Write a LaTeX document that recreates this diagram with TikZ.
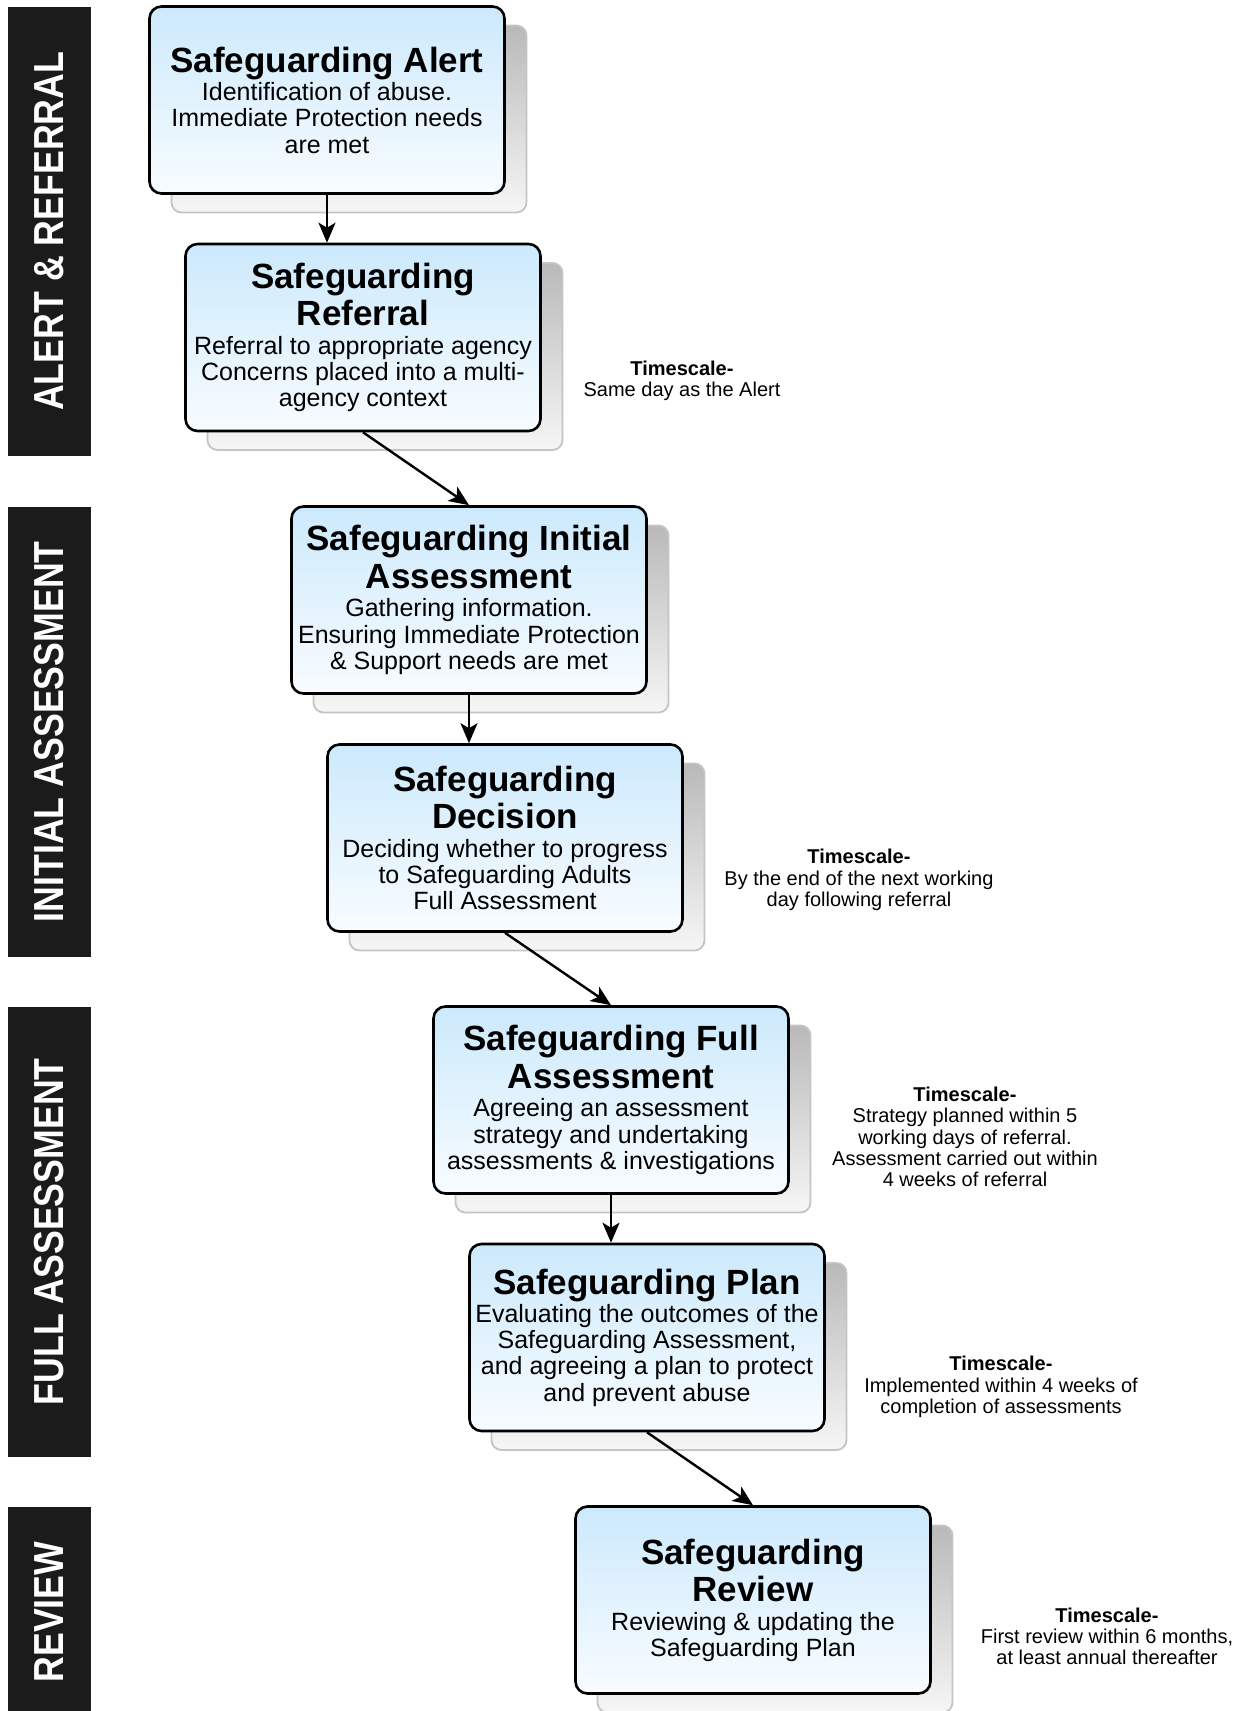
\documentclass[tikz,border=0pt]{standalone}
\usepackage{fontspec}
\setmainfont{Liberation Sans}
\newfontfamily\barfont{Liberation Sans}[FakeStretch=0.85]
\usetikzlibrary{arrows.meta,shadings}
\setlength\parindent{0pt}
\setlength\parskip{0pt}

\definecolor{boxtop}{RGB}{204,233,252}
\definecolor{boxbot}{RGB}{248,252,255}
\definecolor{shadowtop}{RGB}{185,185,185}
\definecolor{shadowbot}{RGB}{246,246,246}
\definecolor{shadowline}{RGB}{196,196,196}
\definecolor{barfill}{RGB}{27,27,27}

\newcommand\titlefont{\fontsize{35}{37.5}\selectfont\bfseries\spaceskip=0pt\xspaceskip=0pt}
\newcommand\bodyfont{\fontsize{25}{26.2}\selectfont\spaceskip=0pt\xspaceskip=0pt}
% title block, then the description under it
\newcommand\steptext[2]{{\centering\titlefont #1\par}\vspace{2.3pt}{\centering\bodyfont #2\par}}
% a process step: grey backing card, then the blue card on top
\newcommand\flowstep[5]{%
  \node[shadowbox] (#1-card) at (#2+22,#3+19) {};
  \node[stepbox] (#1) at (#2,#3) {\steptext{#4}{#5}};
}

\tikzset{
  stepbox/.style={rectangle, rounded corners=12pt, draw=black, line width=2.6pt,
    top color=boxtop, bottom color=boxbot, minimum width=355pt, minimum height=187pt,
    text width=355pt, inner sep=0pt, align=center},
  shadowbox/.style={rectangle, rounded corners=10pt, draw=shadowline, line width=1.8pt,
    top color=shadowtop, bottom color=shadowbot, minimum width=355pt,
    minimum height=187pt, inner sep=0pt},
  flow/.style={line width=2.4pt, -{Stealth[length=20pt,width=17pt,inset=5pt]}},
  sidebar/.style={fill=barfill, text=white, rotate=90, minimum height=83pt,
    inner sep=0pt, font=\barfont\bfseries\fontsize{42}{42}\selectfont},
  timescale/.style={align=center, inner sep=0pt, font=\fontsize{20}{21.3}\selectfont},
}

\begin{document}
\begin{tikzpicture}[x=1pt,y=-1pt]
\useasboundingbox[fill=white] (0,0) rectangle (1242,1711);

% stage bars on the left
\node[sidebar, minimum width=449.5pt] (bar1) at (49,231.3) {ALERT \& REFERRAL};
\node[sidebar, minimum width=450.5pt] (bar2) at (49,731.8) {INITIAL ASSESSMENT};
\node[sidebar, minimum width=450.5pt] (bar3) at (49,1231.8) {FULL ASSESSMENT};
\node[sidebar, minimum width=210pt] (bar4) at (49,1612) {REVIEW};

% process steps
\flowstep{alert}{327}{100}{Safeguarding Alert}
  {Identification of abuse.\\Immediate Protection needs\\are met}
\flowstep{referral}{363}{337.5}{Safeguarding\\Referral}
  {Referral to appropriate agency\\Concerns placed into a multi-\\agency context}
\flowstep{initial}{469}{600}{Safeguarding Initial\\Assessment}
  {Gathering information.\\Ensuring Immediate Protection\\\& Support needs are met}
\flowstep{decision}{505}{838}{Safeguarding\\Decision}
  {Deciding whether to progress\\to Safeguarding Adults\\Full Assessment}
\flowstep{full}{611}{1100}{Safeguarding Full\\Assessment}
  {Agreeing an assessment\\strategy and undertaking\\assessments \& investigations}
\flowstep{plan}{647}{1337.5}{Safeguarding Plan}
  {Evaluating the outcomes of the\\Safeguarding Assessment,\\and agreeing a plan to protect\\and prevent abuse}
\flowstep{review}{753}{1600}{Safeguarding\\Review}
  {Reviewing \& updating the\\Safeguarding Plan}

% connectors
\draw[flow] (alert.south) -- (alert.south |- referral.north);
\draw[flow] (referral.south) -- (initial.north);
\draw[flow] (initial.south) -- (initial.south |- decision.north);
\draw[flow] (decision.south) -- (full.north);
\draw[flow] (full.south) -- (full.south |- plan.north);
\draw[flow] (plan.south) -- (review.north);

% timescales
\node[timescale] (ts1) at (682,380.5) {\textbf{Timescale-}\\Same day as the Alert};
\node[timescale] (ts2) at (859,880) {\textbf{Timescale-}\\By the end of the next working\\day following referral};
\node[timescale] (ts3) at (965,1137) {\textbf{Timescale-}\\Strategy planned within 5\\working days of referral.\\Assessment carried out within\\4 weeks of referral};
\node[timescale] (ts4) at (1001,1387) {\textbf{Timescale-}\\Implemented within 4 weeks of\\completion of assessments};
\node[timescale] (ts5) at (1107,1636.5) {\textbf{Timescale-}\\First review within 6 months,\\at least annual thereafter};
\end{tikzpicture}
\end{document}
